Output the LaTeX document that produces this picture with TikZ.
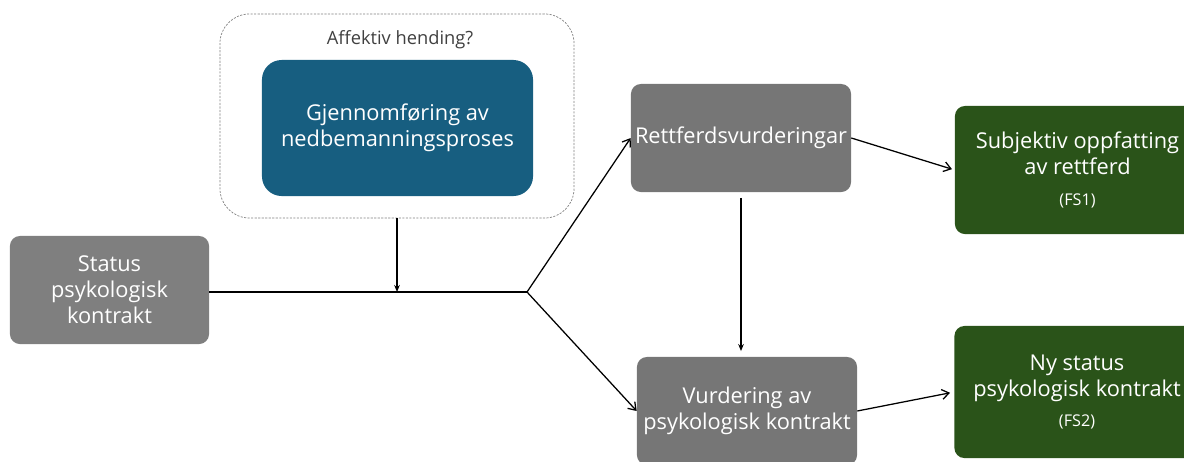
\documentclass[tikz,border=0pt]{standalone}
\usepackage{fontspec}
\setmainfont{Open Sans}
\usetikzlibrary{arrows.meta, positioning, calc}
\definecolor{statgrey}{HTML}{7F7F7F}
\definecolor{midgrey}{HTML}{767676}
\definecolor{procblue}{HTML}{175E80}
\definecolor{outgreen}{HTML}{2A5319}
\newcommand{\fssize}{\fontsize{11.5}{13}\selectfont}
\tikzset{
  blk/.style={rectangle, rounded corners=7pt, align=center, text=white,
              font=\fontsize{15.5}{18.5}\selectfont, inner sep=2pt},
  grey/.style={blk, fill=midgrey, minimum width=5.5cm, minimum height=2.7cm},
  proc/.style={blk, fill=procblue, rounded corners=14pt,
               minimum width=6.775cm, minimum height=3.4cm},
  outc/.style={blk, fill=outgreen, minimum width=6.125cm},
  frame/.style={rectangle, draw=gray, dash pattern=on 1.5pt off 1pt,
                line width=0.5pt, rounded corners=21pt,
                minimum width=8.85cm, minimum height=5.1cm},
  arr/.style={-{Straight Barb[length=5pt,width=7pt]}, line width=0.9pt},
  darr/.style={-{Stealth[length=5pt,width=4pt]}, line width=0.9pt},
}
\begin{document}
\begin{tikzpicture}[x=0.025cm, y=-0.025cm]
  \useasboundingbox (0,0) rectangle (1184,461);
  % event frame with process inside
  \node[frame] (affekt) at (397,116) {};
  \node[font=\fontsize{13}{15}\selectfont, text=black!75] (affq) at (400,40) {Affektiv hending?};
  \node[proc] (proc) at (397.5,128) {Gjennomføring av\\nedbemanningsproses};
  % left input
  \node[grey, fill=statgrey, minimum width=4.975cm] (status) at (109.5,290)
    {Status\\psykologisk\\kontrakt};
  % middle assessments
  \node[grey] (rett) at (741,138) {Rettferdsvurderingar};
  \node[grey] (vurd) at (747,411) {Vurdering av\\psykologisk kontrakt};
  % outcomes
  \node[outc, minimum height=3.2cm] (fs1) at (1077.5,170)
    {Subjektiv oppfatting\\av rettferd\\[3pt]{\fssize (FS1)}};
  \node[outc, minimum height=3.3cm] (fs2) at (1077,392)
    {Ny status\\psykologisk kontrakt\\[3pt]{\fssize (FS2)}};
  \coordinate (junc) at (527,292);
  \draw[line width=0.9pt] (status.east |- junc) -- (junc);
  \draw[darr] (affekt.south) -- (affekt.south |- junc);
  \draw[arr] (junc) -- (rett.west);
  \draw[arr] (junc) -- (vurd.west);
  \draw[darr, shorten <=4pt, shorten >=4pt] (rett.south) -- (rett.south |- vurd.north);
  \draw[arr, shorten >=2pt] (rett.east) -- (fs1.west);
  \draw[arr, shorten >=3pt] (vurd.east) -- (fs2.west);
\end{tikzpicture}
\end{document}
